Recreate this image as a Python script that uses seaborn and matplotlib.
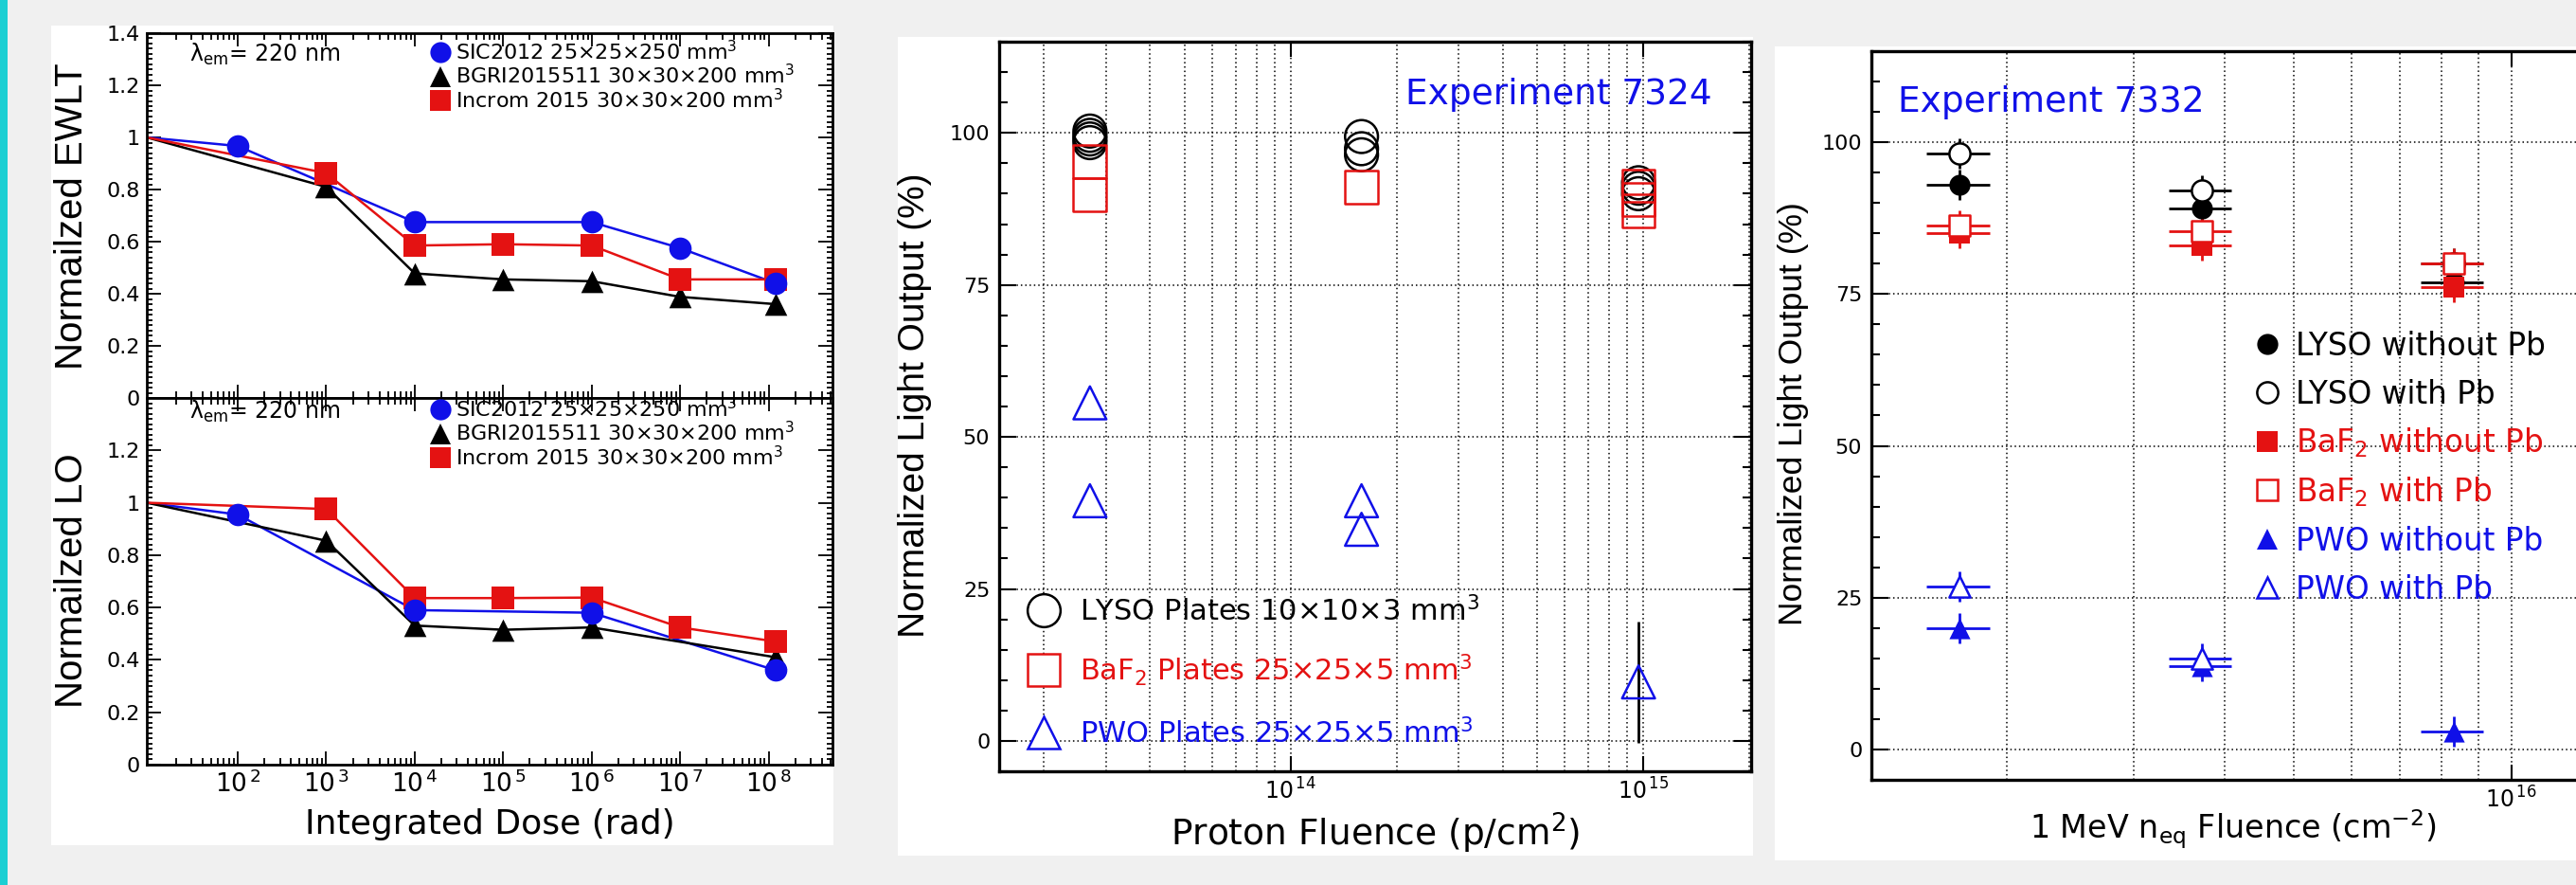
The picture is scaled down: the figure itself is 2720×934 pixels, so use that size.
import numpy as np
import matplotlib
matplotlib.use("Agg")
import matplotlib.pyplot as plt
import seaborn as sns
from matplotlib.lines import Line2D
from matplotlib.patches import Rectangle
from matplotlib.ticker import FixedLocator, LogLocator, NullFormatter, FuncFormatter, MultipleLocator

plt.rcParams['mathtext.default'] = 'regular'
plt.rcParams['font.family'] = ['DejaVu Sans']

# ---------------- data: panel 1 (first point = unirradiated reference, drawn at axis start)
dose_sic_ewlt = [9.4, 1e2, 1e4, 1e6, 1e7, 1.2e8]
ewlt_sic = [1.0, 0.967, 0.675, 0.675, 0.575, 0.44]
dose_bgri_ewlt = [9.4, 1e3, 1e4, 1e5, 1e6, 1e7, 1.2e8]
ewlt_bgri = [1.0, 0.81, 0.478, 0.455, 0.448, 0.388, 0.36]
dose_incrom_ewlt = [9.4, 1e3, 1e4, 1e5, 1e6, 1e7, 1.2e8]
ewlt_incrom = [1.0, 0.863, 0.585, 0.59, 0.585, 0.455, 0.455]

dose_sic_lo = [9.4, 1e2, 1e4, 1e6, 1.2e8]
lo_sic = [1.0, 0.955, 0.59, 0.58, 0.36]
dose_bgri_lo = [9.4, 1e3, 1e4, 1e5, 1e6, 1.2e8]
lo_bgri = [1.0, 0.855, 0.531, 0.515, 0.524, 0.41]
dose_incrom_lo = [9.4, 1e3, 1e4, 1e5, 1e6, 1e7, 1.2e8]
lo_incrom = [1.0, 0.976, 0.636, 0.636, 0.638, 0.524, 0.47]

dose_ticks = [1e2, 1e3, 1e4, 1e5, 1e6, 1e7, 1e8]
labels_p1 = ['SIC2012 25×25×250 mm$^3$', 'BGRI2015511 30×30×200 mm$^3$', 'Incrom 2015 30×30×200 mm$^3$']

# ---------------- data: panel 2 (Experiment 7324, protons)
p_fluence_lyso = [2.7e13, 2.7e13, 2.7e13, 2.7e13, 1.59e14, 1.59e14, 1.59e14, 9.7e14, 9.7e14, 9.7e14]
lo_lyso_plates = [100.3, 99.6, 99.0, 98.4, 99.4, 97.4, 96.4, 91.8, 90.9, 90.0]
p_fluence_baf2 = [2.7e13, 2.7e13, 1.59e14, 9.7e14, 9.7e14, 9.7e14]
lo_baf2_plates = [95.3, 89.8, 91.1, 91.3, 89.0, 87.2]
p_fluence_pwo = [2.7e13, 2.7e13, 1.59e14, 1.59e14, 9.7e14]
lo_pwo_plates = [55.6, 39.5, 39.5, 34.8, 9.7]
err_pwo_plates = [0, 0, 0, 0, 10.0]
labels_p2 = ['LYSO Plates 10×10×3 mm$^3$', 'BaF$_2$ Plates 25×25×5 mm$^3$', 'PWO Plates 25×25×5 mm$^3$']

# ---------------- data: panel 3 (Experiment 7332, neutrons)
n_fluence = [1.72e15, 3.72e15, 8.32e15]
fluence_rel_err = 0.1
lyso_nopb = [93.0, 89.1, 77.0]
lyso_pb = [98.2, 92.1, 80.0]
baf2_nopb = [85.0, 83.0, 76.2]
baf2_pb = [86.3, 85.4, 80.0]
pwo_nopb = [20.0, 13.8, 3.0]
pwo_pb = [26.9, 15.0, np.nan]
lo_err_lyso = 2.5
lo_err_baf2 = 2.5
lo_err_pwo = 2.5
labels_p3 = ['LYSO without Pb', 'LYSO with Pb', 'BaF$_2$ without Pb', 'BaF$_2$ with Pb',
             'PWO without Pb', 'PWO with Pb']

BLUE = '#1010e8'
RED = '#e41212'
BLACK = 'black'

W, H = 2720, 934
fig = plt.figure(figsize=(W / 100, H / 100), dpi=100)
fig.patch.set_facecolor('#f0f0f0')


def fx(x):
    return x / W


def fy(y):
    return 1 - y / H


def rect(l, t, r, b):
    return [l / W, 1 - b / H, (r - l) / W, (b - t) / H]


def box(l, t, r, b, color):
    fig.add_artist(Rectangle((fx(l), fy(b)), (r - l) / W, (b - t) / H, transform=fig.transFigure,
                             facecolor=color, edgecolor='none', zorder=-1))


def mark(x, y, marker, color, ms, filled=True, lw=1.5):
    fig.add_artist(Line2D([fx(x)], [fy(y)], transform=fig.transFigure, marker=marker, ms=ms,
                          markerfacecolor=color if filled else 'white', markeredgecolor=color,
                          markeredgewidth=0 if filled else lw, linestyle='none', zorder=4))


def pow10(v, pos):
    return r'$10^{\,%d}$' % round(np.log10(v))


box(0, 0, 8, 934, '#1ccfd3')
box(54, 27, 880, 892, 'white')
box(948, 39, 1851, 903, 'white')
box(1874, 49, 2720, 908, 'white')

# ================= panel 1 =================
ax_up = fig.add_axes(rect(155, 35, 879, 420))
ax_lo = fig.add_axes(rect(155, 420, 879, 807))

series_up = [(dose_sic_ewlt, ewlt_sic, BLUE, 'o'), (dose_bgri_ewlt, ewlt_bgri, BLACK, '^'),
             (dose_incrom_ewlt, ewlt_incrom, RED, 's')]
series_lo = [(dose_sic_lo, lo_sic, BLUE, 'o'), (dose_bgri_lo, lo_bgri, BLACK, '^'),
             (dose_incrom_lo, lo_incrom, RED, 's')]

for ax, series in [(ax_up, series_up), (ax_lo, series_lo)]:
    ax.set_xscale('log')
    for d, v, c, m in series:
        sns.lineplot(x=d, y=v, ax=ax, color=c, lw=1.8, sort=False, estimator=None, zorder=2)
    for d, v, c, m in [series[1], series[2], series[0]]:
        sns.scatterplot(x=d[1:], y=v[1:], ax=ax, marker=m, s=290, color=c, linewidth=0, zorder=3)
    ax.set_xlim(9.4, 5.25e8)
    ax.set_ylim(0, 1.4)
    ax.set(xlabel='', ylabel='')
    ax.xaxis.set_major_locator(FixedLocator(dose_ticks))
    ax.xaxis.set_minor_locator(LogLocator(base=10, subs=np.arange(2, 10), numticks=100))
    ax.xaxis.set_minor_formatter(NullFormatter())
    ax.yaxis.set_major_locator(MultipleLocator(0.2))
    ax.yaxis.set_minor_locator(MultipleLocator(0.02))
    ax.tick_params(which='both', direction='in', top=True, right=True, width=1.3, labelsize=16)
    ax.tick_params(axis='y', which='major', length=11, pad=5)
    ax.tick_params(axis='y', which='minor', length=4.5)
    ax.tick_params(axis='x', which='major', length=10, pad=5, labelsize=19)
    ax.tick_params(axis='x', which='minor', length=5)
    for s in ax.spines.values():
        s.set_linewidth(2)

ax_up.tick_params(axis='x', labelbottom=False)
ax_up.yaxis.set_major_formatter(FuncFormatter(lambda v, p: '%g' % round(v, 1)))
ax_lo.yaxis.set_major_formatter(FuncFormatter(lambda v, p: '' if v > 1.3 else '%g' % round(v, 1)))
ax_lo.xaxis.set_major_formatter(FuncFormatter(pow10))

fig.text(fx(76), fy(228), 'Normailzed EWLT', rotation=90, ha='center', va='center',
         fontsize=29, family='Liberation Sans')
fig.text(fx(76), fy(613), 'Normailzed LO', rotation=90, ha='center', va='center',
         fontsize=29, family='Liberation Sans')
fig.text(fx(517), fy(880), 'Integrated Dose (rad)', ha='center', va='baseline', fontsize=26)

for top in [35, 412]:
    fig.text(fx(200), fy(top + 30), r'$\lambda_{em}$= 220 nm', va='baseline', fontsize=17)
    for i, (lab, (c, m)) in enumerate(zip(labels_p1, [(BLUE, 'o'), (BLACK, '^'), (RED, 's')])):
        yc = top + 20 + 25.5 * i
        mark(465, yc, m, c, 16)
        fig.text(fx(481), fy(yc + 8), lab, va='baseline', fontsize=16)

# ================= panel 2 =================
grid_kw = dict(color='black', linestyle=(0, (1, 2)), linewidth=1.1)


def style_fluence(ax, xlim, right=True):
    ax.set_xscale('log')
    ax.set_xlim(*xlim)
    ax.set_ylim(-5, 115)
    ax.set(xlabel='', ylabel='')
    ax.set_axisbelow(True)
    ax.yaxis.set_major_locator(MultipleLocator(25))
    ax.yaxis.set_minor_locator(MultipleLocator(5))
    ax.yaxis.set_major_formatter(FuncFormatter(lambda v, p: '%d' % v if 0 <= v <= 100 else ''))
    ax.xaxis.set_minor_locator(LogLocator(base=10, subs=np.arange(2, 10), numticks=100))
    ax.xaxis.set_minor_formatter(NullFormatter())
    ax.xaxis.set_major_formatter(FuncFormatter(pow10))
    ax.grid(True, which='major', axis='y', **grid_kw)
    ax.grid(True, which='both', axis='x', **grid_kw)
    ax.tick_params(which='both', direction='in', top=True, right=right, width=1.5)
    ax.tick_params(axis='y', which='major', length=13, pad=7, labelsize=16)
    ax.tick_params(axis='y', which='minor', length=6.5)
    ax.tick_params(axis='x', which='major', length=11.5, pad=5, labelsize=17)
    ax.tick_params(axis='x', which='minor', length=0)
    for s in ax.spines.values():
        s.set_linewidth(2.4)


ax2 = fig.add_axes(rect(1055, 44, 1849, 814))
ax2.errorbar(p_fluence_pwo, lo_pwo_plates, yerr=err_pwo_plates, fmt='none', ecolor='black',
             elinewidth=2, capsize=0, zorder=2)
open_kw = dict(s=625, facecolor='none', linewidth=1.8, zorder=3)
sns.scatterplot(x=p_fluence_lyso, y=lo_lyso_plates, ax=ax2, marker='o', edgecolor=BLACK, **open_kw)
sns.scatterplot(x=p_fluence_baf2, y=lo_baf2_plates, ax=ax2, marker='s', edgecolor=RED, **open_kw)
sns.scatterplot(x=p_fluence_pwo, y=lo_pwo_plates, ax=ax2, marker='^', edgecolor=BLUE, **open_kw)
style_fluence(ax2, (10 ** 13.174, 10 ** 15.306))
ax2.xaxis.set_major_locator(FixedLocator([1e14, 1e15]))

fig.text(fx(966), fy(428), 'Normalized Light Output (%)', rotation=90, ha='center', va='center',
         fontsize=28, family='Liberation Sans')
fig.text(fx(1452), fy(893), 'Proton Fluence (p/cm$^2$)', ha='center', va='baseline', fontsize=27)
fig.text(fx(1808), fy(110), 'Experiment 7324', ha='right', va='baseline', fontsize=27, color=BLUE)
for i, (lab, (c, m)) in enumerate(zip(labels_p2, [(BLACK, 'o'), (RED, 's'), (BLUE, '^')])):
    yc = [644, 707, 773][i]
    mark(1102, yc, m, c, 25, filled=False, lw=1.8)
    fig.text(fx(1140), fy(yc + 11), lab, va='baseline', fontsize=22, color=c)

# ================= panel 3 =================
ax3 = fig.add_axes(rect(1976, 54, 2740, 823))
x3 = np.array(n_fluence)
xerr3 = [x3 * fluence_rel_err, x3 * fluence_rel_err]
series3 = [(lyso_nopb, lo_err_lyso, BLACK, 'o', True), (lyso_pb, lo_err_lyso, BLACK, 'o', False),
           (baf2_nopb, lo_err_baf2, RED, 's', True), (baf2_pb, lo_err_baf2, RED, 's', False),
           (pwo_nopb, lo_err_pwo, BLUE, '^', True), (pwo_pb, lo_err_pwo, BLUE, '^', False)]
for vals, err, c, m, filled in series3:
    ax3.errorbar(x3, vals, xerr=xerr3, yerr=err, fmt='none', ecolor=c, elinewidth=2, capsize=0, zorder=2)
for vals, err, c, m, filled in series3:
    if filled:
        sns.scatterplot(x=x3, y=vals, ax=ax3, marker=m, s=256, color=c, linewidth=0, zorder=3)
    else:
        sns.scatterplot(x=x3, y=vals, ax=ax3, marker=m, s=256, facecolor='white', edgecolor=c,
                        linewidth=1.8, zorder=3)
style_fluence(ax3, (10 ** 15.113, 10 ** 16.116), right=False)
ax3.xaxis.set_major_locator(FixedLocator([1e16]))

fig.text(fx(1893), fy(437), 'Normalized Light Output (%)', rotation=90, ha='center', va='center',
         fontsize=25.5, family='Liberation Sans')
fig.text(fx(2358), fy(885), '1 MeV n$_{eq}$ Fluence (cm$^{-2}$)', ha='center', va='baseline', fontsize=24)
fig.text(fx(2004), fy(118), 'Experiment 7332', va='baseline', fontsize=27, color=BLUE)
for i, (lab, (vals, err, c, m, filled)) in enumerate(zip(labels_p3, series3)):
    yc = 363 + 51.4 * i
    mark(2394, yc, m, c, 16, filled=filled, lw=1.8)
    fig.text(fx(2424), fy(yc + 12), lab, va='baseline', fontsize=23.5, color=c)

fig.savefig('out.png', dpi=100, facecolor=fig.get_facecolor())
